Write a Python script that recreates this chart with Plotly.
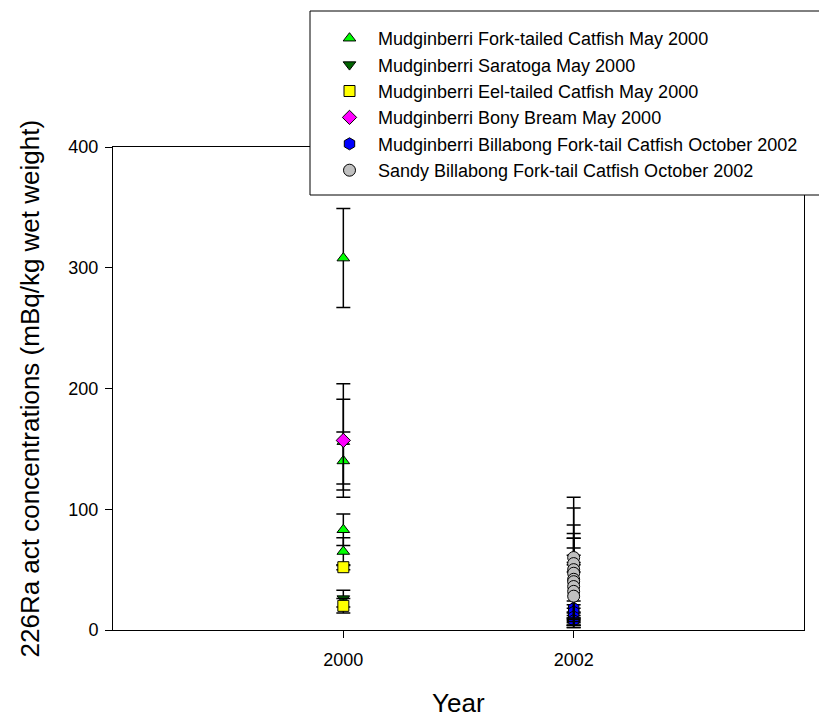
import plotly.graph_objects as go

# Radium-226 activity in fish flesh, by sampling year
fork_tailed_2000_y = [308, 156, 140, 83, 65]
fork_tailed_2000_err = [41, 35, 24, 13, 11.5]

saratoga_2000_y = [26]
saratoga_2000_err = [7]

eel_tailed_2000_y = [52, 20]
eel_tailed_2000_err = [2, 6]

bony_bream_2000_y = [157]
bony_bream_2000_err = [47]

mudg_2002_y = [52, 18, 15, 11, 8]
mudg_2002_err = [4, 3, 3, 3, 2]

sandy_2002_y = [60, 55, 50, 47, 42, 40, 36, 32, 28]
sandy_2002_err = [50, 46, 26, 40, 38, 36, 32, 30, 26]

series = [
    ("Mudginberri Fork-tailed Catfish May 2000", 2000, fork_tailed_2000_y, fork_tailed_2000_err, "triangle-up", "#00ff00", 11),
    ("Mudginberri Saratoga May 2000", 2000, saratoga_2000_y, saratoga_2000_err, "triangle-down", "#006400", 11),
    ("Mudginberri Eel-tailed Catfish May 2000", 2000, eel_tailed_2000_y, eel_tailed_2000_err, "square", "#ffff00", 11),
    ("Mudginberri Bony Bream May 2000", 2000, bony_bream_2000_y, bony_bream_2000_err, "diamond", "#ff00ff", 11),
    ("Mudginberri Billabong Fork-tail Catfish October 2002", 2002, mudg_2002_y, mudg_2002_err, "hexagon", "#0000ff", 12),
    ("Sandy Billabong Fork-tail Catfish October 2002", 2002, sandy_2002_y, sandy_2002_err, "circle", "#c0c0c0", 12),
]

FONT = "Liberation Sans, Arial, sans-serif"

# plot area in pixels
L, R, T, B = 113, 804, 147, 630
W, H = 819, 717


def px_x(p):
    return (p - L) / (R - L)


def px_y(p):
    return (B - p) / (B - T)


fig = go.Figure()
for name, year, ys, errs, symbol, color, size in series:
    fig.add_trace(go.Scatter(
        x=[year] * len(ys),
        y=ys,
        mode="markers",
        name=name,
        marker=dict(symbol=symbol, color=color, size=size,
                    line=dict(color="black", width=1)),
        error_y=dict(type="data", array=errs,
                     arrayminus=[min(e, v) for e, v in zip(errs, ys)],
                     color="black", thickness=1.5, width=7),
    ))

fig.update_layout(
    width=W, height=H,
    margin=dict(l=L, r=W - R, t=T, b=H - B),
    paper_bgcolor="white", plot_bgcolor="white",
    font=dict(family=FONT, size=18, color="black"),
    showlegend=True,
    legend=dict(
        x=px_x(310), y=px_y(20), xanchor="left", yanchor="top",
        bgcolor="rgba(0,0,0,0)", borderwidth=0,
        font=dict(family=FONT, size=18),
        indentation=11, itemwidth=47,
    ),
    xaxis=dict(
        range=[1998, 2004], tickvals=[2000, 2002], ticktext=["2000", "2002"],
        showgrid=False, zeroline=False, showline=True, linecolor="black",
        linewidth=1, mirror=True, ticks="outside", ticklen=7, tickcolor="black",
        ticklabelstandoff=6,
    ),
    yaxis=dict(
        range=[0, 400], tickvals=[0, 100, 200, 300, 400],
        showgrid=False, zeroline=False, showline=True, linecolor="black",
        linewidth=1, mirror=True, ticks="outside", ticklen=7, tickcolor="black",
        ticklabelstandoff=3,
    ),
    yaxis2=dict(
        range=[0, 400], tickvals=[0, 100, 200, 300, 400], overlaying="y",
        anchor="x", side="right", showgrid=False, zeroline=False, showline=False,
        ticks="inside", ticklen=7, tickcolor="black", showticklabels=False,
    ),
)

# legend frame
fig.add_shape(
    type="rect", xref="paper", yref="paper",
    x0=px_x(310), x1=px_x(830), y0=px_y(195), y1=px_y(11),
    fillcolor="white", line=dict(color="black", width=1), layer="above",
)

fig.add_annotation(
    text="226Ra act concentrations (mBq/kg wet weight)",
    xref="paper", yref="paper", x=px_x(29), y=0.5,
    xanchor="center", yanchor="middle", textangle=-90,
    showarrow=False, font=dict(family=FONT, size=26),
)

fig.add_annotation(
    text="Year",
    xref="paper", yref="paper", x=0.5, y=px_y(703),
    xanchor="center", yanchor="middle",
    showarrow=False, font=dict(family=FONT, size=26),
)

fig.write_html("out.html")
